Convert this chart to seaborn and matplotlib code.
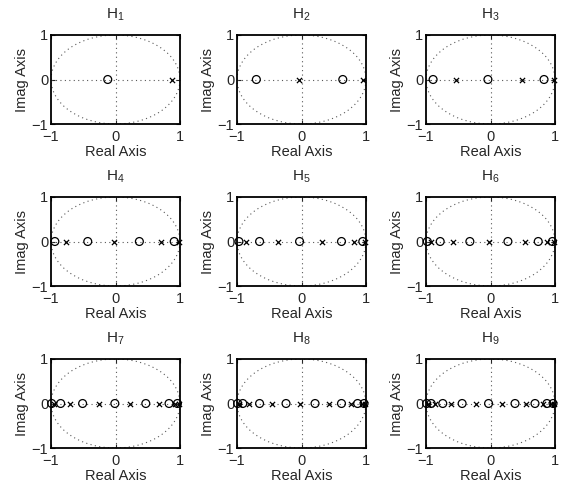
import numpy as np
import pandas as pd
import matplotlib
matplotlib.use("Agg")
import matplotlib.pyplot as plt
from matplotlib.patches import Circle
import seaborn as sns

# zeros (o) and poles (x) on the real axis
zeros_1 = [-0.12]
poles_1 = [0.87]
zeros_2 = [-0.70, 0.64]
poles_2 = [-0.04, 0.96]
zeros_3 = [-0.89, -0.04, 0.83]
poles_3 = [-0.54, 0.49, 0.98]
zeros_4 = [-0.94, -0.43, 0.37, 0.91]
poles_4 = [-0.76, -0.03, 0.71, 0.98]
zeros_5 = [-0.97, -0.65, -0.03, 0.62, 0.95]
poles_5 = [-0.86, -0.36, 0.32, 0.82, 0.99]
zeros_6 = [-0.98, -0.78, -0.32, 0.27, 0.74, 0.96]
poles_6 = [-0.92, -0.58, -0.02, 0.54, 0.87, 0.99]
zeros_7 = [-0.99, -0.85, -0.51, -0.01, 0.47, 0.83, 0.96]
poles_7 = [-0.96, -0.70, -0.26, 0.23, 0.67, 0.92, 0.99]
zeros_8 = [-0.99, -0.91, -0.65, -0.24, 0.21, 0.62, 0.87, 0.97]
poles_8 = [-0.97, -0.82, -0.45, -0.03, 0.42, 0.77, 0.94, 0.99]
zeros_9 = [-0.99, -0.92, -0.74, -0.44, -0.03, 0.38, 0.69, 0.875, 0.97]
poles_9 = [-0.975, -0.855, -0.61, -0.23, 0.18, 0.55, 0.81, 0.94, 0.99]

zeros = [zeros_1, zeros_2, zeros_3, zeros_4, zeros_5, zeros_6, zeros_7, zeros_8, zeros_9]
poles = [poles_1, poles_2, poles_3, poles_4, poles_5, poles_6, poles_7, poles_8, poles_9]
titles = ["$\\mathregular{H_{%d}}$" % (i + 1) for i in range(9)]
ticks = [-1, 0, 1]
tick_labels = ["\u22121", "0", "1"]

sns.set_style("white")
plt.rcParams["font.family"] = ["Liberation Sans", "DejaVu Sans"]
plt.rcParams["mathtext.fontset"] = "custom"
plt.rcParams["mathtext.rm"] = "Liberation Sans"
plt.rcParams["mathtext.it"] = "Liberation Sans"

W, H = 566, 487
fig = plt.figure(figsize=(W / 100, H / 100), dpi=100)

col_left = [51, 237, 426]
row_top = [35, 197, 359]
aw, ah = 129, 89

for i in range(9):
    r, c = divmod(i, 3)
    ax = fig.add_axes([col_left[c] / W, 1 - (row_top[r] + ah) / H, aw / W, ah / H])
    ax.add_patch(Circle((0, 0), 1, fill=False, ls=(0, (1, 3)), lw=0.8, color="0.35"))
    ax.axhline(0, ls=(0, (1, 3)), lw=0.8, color="0.35")
    ax.axvline(0, ls=(0, (1, 3)), lw=0.8, color="0.35")

    dz = pd.DataFrame({"re": zeros[i], "im": [0.0] * len(zeros[i])})
    dp = pd.DataFrame({"re": poles[i], "im": [0.0] * len(poles[i])})
    sns.scatterplot(data=dz, x="re", y="im", marker="o", s=32, facecolor="none",
                    edgecolor="black", linewidth=0.9, ax=ax, clip_on=False, zorder=3)
    sns.scatterplot(data=dp, x="re", y="im", marker="x", s=14, color="black",
                    linewidth=0.9, ax=ax, clip_on=False, zorder=3)

    ax.set_xlim(-1, 1)
    ax.set_ylim(-1, 1)
    ax.set_xticks(ticks)
    ax.set_yticks(ticks)
    ax.set_xticklabels(tick_labels)
    ax.set_yticklabels(tick_labels)
    ax.tick_params(direction="in", length=3, width=0.8, labelsize=10.5,
                   top=True, right=True, bottom=True, left=True)
    ax.tick_params(axis="x", pad=4)
    ax.tick_params(axis="y", pad=2)
    for s in ax.spines.values():
        s.set_linewidth(1.3)
        s.set_color("black")
    ax.set_xlabel("Real Axis", fontsize=10.5, labelpad=1)
    ax.set_ylabel("Imag Axis", fontsize=10.5, labelpad=2)
    ax.set_title(titles[i], fontsize=11, pad=12)

fig.savefig("out.png", dpi=100)
